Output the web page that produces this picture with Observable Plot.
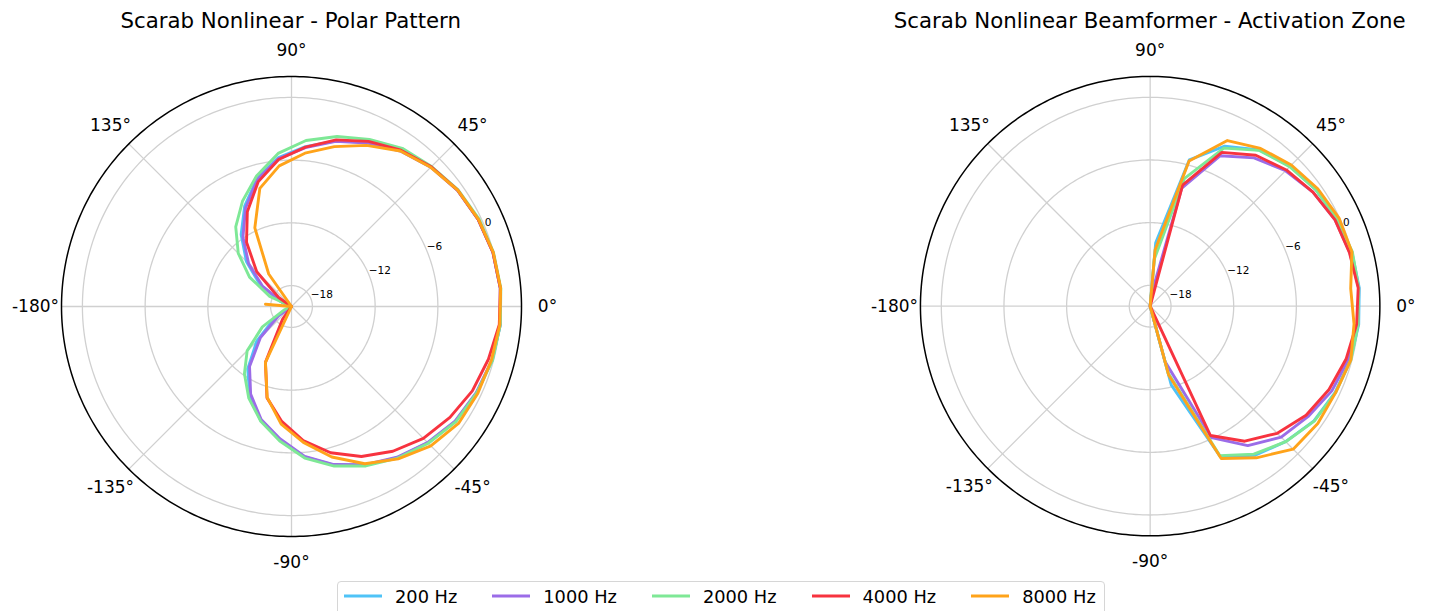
<!DOCTYPE html>
<html>
<head>
<meta charset="utf-8">
<script src="https://cdn.jsdelivr.net/npm/d3@7"></script>
<script src="https://cdn.jsdelivr.net/npm/@observablehq/plot@0.6"></script>
<style>
html, body { margin: 0; padding: 0; background: #fff; }
body { width: 1429px; height: 611px; position: relative; overflow: hidden; font-family: "DejaVu Sans", sans-serif; color: #000; }
.title { position: absolute; top: 9px; width: 700px; text-align: center; font-size: 21.3px; line-height: 24px; white-space: nowrap; }
.panel { position: absolute; }
#legend { position: absolute; left: 337px; top: 581px; width: 768px; height: 40px; border: 1px solid #d6d6d6; border-radius: 4px; box-sizing: border-box; display: flex; align-items: flex-start; padding-left: 6px; background: rgba(255,255,255,0.8); }
.item { display: flex; align-items: center; height: 28px; margin-right: 35px; font-size: 17.8px; white-space: nowrap; }
.item svg { margin-right: 13px; }
</style>
</head>
<body>
<script>
// ---------- data ----------
const angles = [-175,-165,-155,-145,-135,-125,-115,-105,-95,-85,-75,-65,-55,-45,-35,-25,-15,-5,
                5,15,25,35,45,55,65,75,85,95,105,115,125,135,145,155,165,175];
const freqLabels = ["200 Hz", "1000 Hz", "2000 Hz", "4000 Hz", "8000 Hz"];

// Left panel: Polar Pattern (dB)
const polar200  = [-20,-20,-20,-18,-15.3,-12.7,-10.55,-8.7,-7.2,-5.55,-4.3,-3.25,-2.35,-1.55,-0.85,-0.47,-0.12,0.05,
                   0.05,-0.05,-0.3,-0.6,-1.12,-1.8,-2.7,-3.6,-4.65,-5.7,-7.3,-9.4,-11.6,-13.9,-16.3,-18.8,-20,-20];
const polar1000 = [-20,-20,-20,-18.5,-15.8,-13.0,-10.75,-8.8,-7.3,-5.6,-4.35,-3.3,-2.4,-1.6,-0.9,-0.5,-0.15,0.05,
                   0.05,-0.05,-0.3,-0.62,-1.15,-1.85,-2.75,-3.65,-4.75,-5.8,-7.4,-9.6,-11.9,-14.2,-16.6,-19.0,-20,-20];
const polar2000 = [-20,-20,-19.2,-16.6,-14.0,-12.15,-10.33,-8.64,-7.08,-5.45,-4.2,-3.17,-2.3,-1.5,-0.8,-0.45,-0.1,0.05,
                   0.1,0.0,-0.2,-0.55,-1.06,-1.53,-2.36,-3.16,-4.06,-5.3,-7.07,-8.9,-10.7,-12.8,-15.1,-17.7,-20,-20];
const polar4000 = [-20,-20,-20,-20,-20,-18.5,-14.1,-10.95,-9.0,-7.12,-5.52,-4.17,-3.1,-2.16,-1.5,-0.91,-0.5,-0.05,
                   0.05,-0.05,-0.3,-0.6,-1.1,-1.75,-2.57,-3.5,-4.7,-5.88,-7.66,-10.0,-12.5,-15.3,-18.5,-20,-20,-20];
const polar8000 = [-20,-20,-20,-20,-20,-20,-14.1,-11.0,-8.7,-6.95,-5.1,-3.4,-2.2,-1.15,-0.5,-0.34,-0.2,0.0,
                   0.08,-0.02,-0.27,-0.6,-1.17,-1.84,-3.0,-4.17,-5.28,-6.5,-8.3,-11.7,-16.2,-20,-20,-20,-20,-17.5];

// Right panel: Beamformer activation zone (dB)
const beam200  = [-20,-20,-20,-20,-20,-20,-20,-20,-20,-20,-12.2,-4.1,-2.55,-1.65,-0.85,-0.45,-0.15,0.05,
                  0.1,0.0,-0.25,-0.6,-1.05,-1.75,-3.1,-5.5,-13.9,-20,-20,-20,-20,-20,-20,-20,-20,-20];
const beam1000 = [-20,-20,-20,-20,-20,-20,-20,-20,-20,-20,-14.5,-6.1,-3.7,-2.25,-1.55,-0.8,-0.35,0.0,
                  0.05,-0.2,-0.46,-0.97,-1.66,-2.66,-4.1,-8.3,-19,-20,-20,-20,-20,-20,-20,-20,-20,-20];
const beam2000 = [-20,-20,-20,-20,-20,-20,-20,-20,-20,-20,-13.4,-4.2,-2.7,-1.64,-0.81,-0.4,-0.1,0.0,
                  0.05,0.05,-0.25,-0.61,-1.1,-1.79,-3.3,-7.36,-15.5,-20,-20,-20,-20,-20,-20,-20,-20,-20];
const beam4000 = [-20,-20,-20,-20,-20,-20,-20,-20,-20,-20,-20,-6.33,-4.21,-2.78,-1.77,-1.1,-0.56,-0.15,
                  0.0,-0.24,-0.46,-0.97,-1.55,-2.36,-3.75,-8.0,-20,-20,-20,-20,-20,-20,-20,-20,-20,-20];
const beam8000 = [-20,-20,-20,-20,-20,-20,-20,-20,-20,-20,-13.2,-3.9,-2.27,-0.63,-0.4,-0.4,-0.1,-0.4,
                  -0.72,0.0,-0.04,-0.4,-0.88,-1.56,-2.5,-5.6,-14.6,-20,-20,-20,-20,-20,-20,-20,-20,-20];

const radialTicks = [-18, -12, -6, 0];
const radialTickLabels = ["\u221218", "\u221212", "\u22126", "0"];
const angleTicks = [0, 45, 90, 135, 180, -135, -90, -45];
const angleTickLabels = ["0°", "45°", "90°", "135°", "-180°", "-135°", "-90°", "-45°"];
const rMin = -20, rMax = 2;

const titles = ["Scarab Nonlinear - Polar Pattern", "Scarab Nonlinear Beamformer - Activation Zone"];
const colors = ["#4fc3f7", "#9b6ce8", "#7ee896", "#f7333f", "#ffa31a"];

// ---------- layout ----------
const CX = [290.7, 1149.7], CY = 305.7, RPX = 230;
const W = 560, H = 560;
const K = RPX / (rMax - rMin);           // px per dB
const half = (W / 2) / K;
const rad = d => d * Math.PI / 180;
const px = (r, a) => (r - rMin) * Math.cos(rad(a));
const py = (r, a) => (r - rMin) * Math.sin(rad(a));

function panel(seriesList) {
  const data = [];
  seriesList.forEach((vals, i) => vals.forEach((v, j) => data.push({freq: freqLabels[i], a: angles[j], v})));
  const rings = [];
  radialTicks.forEach(t => d3.range(0, 361, 1).forEach(a => rings.push({t, a})));
  const outer = d3.range(0, 361, 1).map(a => ({a}));
  const spokes = d3.range(0, 360, 45).map(a => ({a}));
  const rlab = radialTicks.map((t, i) => ({t, label: radialTickLabels[i]}));
  const alab = angleTicks.map((a, i) => ({a, label: angleTickLabels[i]}));
  const labR = rMin + 256 / K;
  return Plot.plot({
    width: W, height: H, margin: 0,
    x: {domain: [-half, half], axis: null},
    y: {domain: [-half, half], axis: null},
    color: {domain: freqLabels, range: colors},
    style: {background: "transparent", overflow: "visible", fontFamily: "DejaVu Sans"},
    marks: [
      Plot.line(rings, {x: d => px(d.t, d.a), y: d => py(d.t, d.a), z: "t", stroke: "#d0d0d0", strokeWidth: 1.3}),
      Plot.link(spokes, {x1: 0, y1: 0, x2: d => px(rMax, d.a), y2: d => py(rMax, d.a), stroke: "#d0d0d0", strokeWidth: 1.3}),
      Plot.line(data, {x: d => px(d.v, d.a), y: d => py(d.v, d.a), z: "freq", stroke: "freq", strokeWidth: 2.9, strokeLinejoin: "round"}),
      Plot.line(outer, {x: d => px(rMax, d.a), y: d => py(rMax, d.a), stroke: "#000", strokeWidth: 1.5}),
      Plot.text(rlab, {x: d => px(d.t, 22.5), y: d => py(d.t, 22.5), text: "label", textAnchor: "start", lineAnchor: "bottom", fontSize: 10.5, fill: "#000"}),
      Plot.text(alab, {x: d => px(labR, d.a), y: d => py(labR, d.a), text: "label", textAnchor: "middle", lineAnchor: "middle", fontSize: 17, fill: "#000"})
    ]
  });
}

const panels = [
  [polar200, polar1000, polar2000, polar4000, polar8000],
  [beam200, beam1000, beam2000, beam4000, beam8000]
];

panels.forEach((s, i) => {
  const t = document.createElement("div");
  t.className = "title";
  t.style.left = (CX[i] - 350) + "px";
  t.textContent = titles[i];
  document.body.appendChild(t);
  const wrap = document.createElement("div");
  wrap.className = "panel";
  wrap.style.left = (CX[i] - W / 2) + "px";
  wrap.style.top = (CY - H / 2) + "px";
  wrap.appendChild(panel(s));
  document.body.appendChild(wrap);
});

// legend
const leg = document.createElement("div");
leg.id = "legend";
freqLabels.forEach((f, i) => {
  const item = document.createElement("div");
  item.className = "item";
  item.innerHTML = `<svg width="38" height="10"><line x1="0" y1="5" x2="38" y2="5" stroke="${colors[i]}" stroke-width="2.9"/></svg><span>${f}</span>`;
  leg.appendChild(item);
});
document.body.appendChild(leg);
</script>
</body>
</html>
